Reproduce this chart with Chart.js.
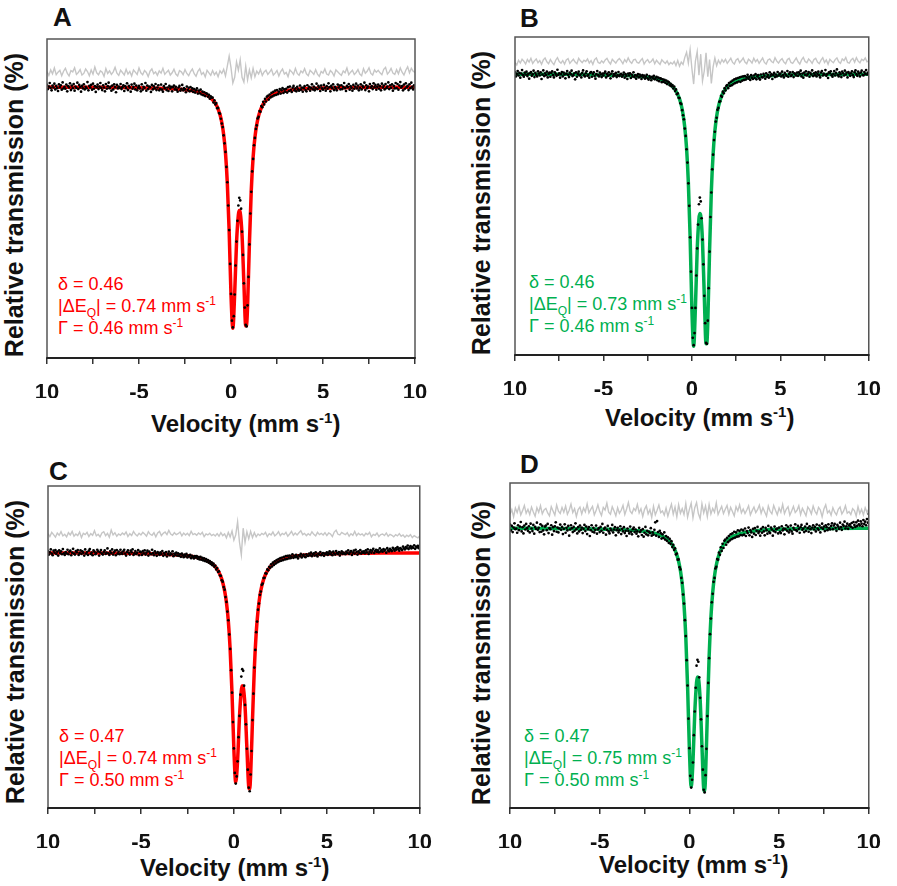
<!DOCTYPE html>
<html>
<head>
<meta charset="utf-8">
<script src="https://cdn.jsdelivr.net/npm/chart.js@4.4.0/dist/chart.umd.min.js"></script>
<style>
    body { margin: 0; background: #fff; width: 897px; height: 886px; position: relative; overflow: hidden;
           font-family: "Liberation Sans", Arial, sans-serif; }
    canvas { position: absolute; }
    .lbl { position: absolute; white-space: nowrap; color: #111; }
    .letter { font-weight: bold; font-size: 26px; line-height: 26px; }
    .xt { font-weight: bold; font-size: 24px; line-height: 24px; }
    .xt sup { font-size: 15px; line-height: 0; }
    .yt { font-weight: bold; font-size: 25px; line-height: 25px; transform: translate(-50%, -50%) rotate(-90deg); }
    .note { font-size: 18px; line-height: 22px; }
    .note sup, .note sub { font-size: 12px; line-height: 0; }
</style>
</head>
<body>

<div class="lbl letter" style="left:53px; top:4px;">A</div>
<div class="lbl letter" style="left:520px; top:5px;">B</div>
<div class="lbl letter" style="left:49px; top:458px;">C</div>
<div class="lbl letter" style="left:520px; top:451px;">D</div>

<div class="lbl yt" style="left:14px; top:205px;">Relative transmission (%)</div>
<div class="lbl yt" style="left:481px; top:203px;">Relative transmission (%)</div>
<div class="lbl yt" style="left:15px; top:652px;">Relative transmission (%)</div>
<div class="lbl yt" style="left:481px; top:653px;">Relative transmission (%)</div>

<div class="lbl xt" style="left:151px; top:412px;">Velocity (mm s<sup>-1</sup>)</div>
<div class="lbl xt" style="left:605px; top:406px;">Velocity (mm s<sup>-1</sup>)</div>
<div class="lbl xt" style="left:140px; top:856px;">Velocity (mm s<sup>-1</sup>)</div>
<div class="lbl xt" style="left:599px; top:853px;">Velocity (mm s<sup>-1</sup>)</div>

<div class="lbl note" style="left:58px; top:273px; color:#ff0000;">δ = 0.46<br>|ΔE<sub>Q</sub>| = 0.74 mm s<sup>-1</sup><br>Γ = 0.46 mm s<sup>-1</sup></div>
<div class="lbl note" style="left:529px; top:271px; color:#00b050;">δ = 0.46<br>|ΔE<sub>Q</sub>| = 0.73 mm s<sup>-1</sup><br>Γ = 0.46 mm s<sup>-1</sup></div>
<div class="lbl note" style="left:59px; top:725px; color:#ff0000;">δ = 0.47<br>|ΔE<sub>Q</sub>| = 0.74 mm s<sup>-1</sup><br>Γ = 0.50 mm s<sup>-1</sup></div>
<div class="lbl note" style="left:524px; top:725px; color:#00b050;">δ = 0.47<br>|ΔE<sub>Q</sub>| = 0.75 mm s<sup>-1</sup><br>Γ = 0.50 mm s<sup>-1</sup></div>

<canvas id="chartA" width="448" height="440" style="left:0; top:0;"></canvas>
<canvas id="chartB" width="449" height="440" style="left:448px; top:0;"></canvas>
<canvas id="chartC" width="448" height="446" style="left:0; top:440px;"></canvas>
<canvas id="chartD" width="449" height="446" style="left:448px; top:440px;"></canvas>

<script>
// spectrometer channels: counts every 0.05 mm/s, residuals every 0.1 mm/s, from -10 mm/s
const velStart = -10;
const countStep = 0.05;
const residStep = 0.1;

const xTicks = [-10, -5, 0, 5, 10];
const xTickLabels = ['10', '-5', '0', '5', '10'];

// velocities where the fit curves are read
const fitVel = [-10, -8, -6, -4, -3, -2.5, -2, -1.8, -1.6, -1.4, -1.2, -1.0,
    -0.9, -0.8, -0.7, -0.6, -0.5, -0.4, -0.3, -0.2, -0.1,
    0, 0.1, 0.2, 0.3, 0.4, 0.45, 0.5, 0.6, 0.7, 0.8, 0.85, 0.9,
    1.0, 1.1, 1.2, 1.3, 1.4, 1.5, 1.6, 1.7, 1.8,
    2.0, 2.2, 2.4, 2.8, 3.5, 4, 5, 6, 8, 10];

const fitA = [84.92, 84.87, 84.8, 84.6, 84.35, 84.1, 83.7, 83.47, 83.12, 82.64, 81.98, 80.97,
    80.23, 79.3, 78.05, 76.31, 73.81, 70.06, 64.29, 54.84, 39.8,
    19.77, 9.35, 20.23, 36.07, 44.83, 46.2, 45.6, 38.5, 23.63, 10.08, 10.2, 16.2,
    35.86, 52.33, 62.76, 69.15, 73.2, 75.9, 77.7, 79.1, 80.07,
    81.39, 82.29, 82.85, 83.56, 84.17, 84.4, 84.63, 84.75, 84.86, 84.91];
const fitB = [88.3, 88.26, 88.17, 87.94, 87.66, 87.38, 86.94, 86.67, 86.27, 85.72, 84.98, 83.84,
    83.0, 81.95, 80.53, 78.56, 75.73, 71.48, 64.95, 54.24, 37.25,
    14.54, 2.74, 15.05, 33.0, 42.9, 44.5, 43.8, 35.75, 18.9, 3.56, 3.7, 10.5,
    32.76, 51.4, 63.2, 70.46, 75.02, 78.09, 80.14, 81.71, 82.81,
    84.31, 85.33, 85.96, 86.77, 87.46, 87.72, 87.98, 88.12, 88.24, 88.3];
const fitC = [79.22, 79.17, 79.1, 78.89, 78.6, 78.33, 77.88, 77.6, 77.23, 76.73, 76.0, 74.93,
    74.15, 73.16, 71.84, 70.05, 67.5, 63.8, 58.1, 49.2, 35.57,
    18.24, 7.92, 14.82, 28.16, 36.5, 38.0, 37.6, 31.5, 18.65, 6.6, 5.88, 10.12,
    27.1, 43.3, 54.3, 61.3, 65.9, 68.9, 71.0, 72.5, 73.67,
    75.2, 76.2, 76.87, 77.68, 78.36, 78.62, 78.89, 79.03, 79.17, 79.22];
const fitD = [86.09, 86.03, 85.9, 85.73, 85.42, 85.13, 84.62, 84.32, 83.9, 83.35, 82.53, 81.33,
    80.48, 79.36, 77.89, 75.9, 73.05, 68.91, 62.57, 52.64, 37.4,
    18.12, 6.61, 14.34, 29.23, 38.62, 40.33, 40.0, 33.32, 19.23, 5.91, 5.15, 9.82,
    28.57, 46.45, 58.62, 66.33, 71.35, 74.68, 77.03, 78.72, 79.97,
    81.69, 82.77, 83.51, 84.41, 85.16, 85.44, 85.74, 85.9, 86.03, 86.09];

// measured transmission, one row per 1 mm/s (20 channels)
const countsA = [
    85.6, 84.3, 85.1, 86.2, 84.7, 83.9, 85.4, 84.8, 86.0, 84.2, 85.3, 84.6, 83.7, 85.8, 84.9, 85.5, 84.1, 86.4, 84.5, 85.0,
    84.4, 85.7, 83.6, 85.2, 84.8, 86.1, 84.0, 85.4, 84.6, 85.9, 83.8, 85.1, 84.7, 86.3, 84.3, 85.6, 84.9, 83.5, 85.3, 84.5,
    85.8, 84.2, 85.0, 84.6, 86.5, 83.9, 85.3, 84.8, 85.6, 84.1, 86.0, 84.4, 85.2, 83.4, 84.9, 85.7, 84.3, 85.1, 86.2, 84.7,
    84.0, 85.5, 84.8, 83.6, 85.9, 84.4, 85.2, 86.3, 84.6, 85.0, 83.8, 85.4, 84.2, 85.8, 84.9, 83.3, 85.6, 84.5, 85.1, 84.7,
    85.9, 84.3, 84.9, 85.5, 83.7, 85.2, 84.6, 86.1, 84.0, 85.3, 84.8, 83.5, 85.7, 84.4, 85.0, 86.0, 84.2, 85.4, 83.9, 84.7,
    85.3, 84.5, 83.6, 85.8, 84.1, 85.0, 84.7, 86.2, 83.8, 85.4, 84.3, 85.1, 84.9, 83.4, 85.6, 84.2, 85.2, 84.6, 85.9, 84.0,
    84.8, 85.5, 83.9, 84.4, 85.7, 84.1, 83.5, 85.2, 84.6, 85.9, 84.0, 84.8, 83.7, 85.3, 84.5, 85.0, 83.6, 84.9, 85.4, 84.2,
    85.0, 84.1, 83.5, 84.8, 85.3, 83.8, 84.4, 85.6, 83.9, 84.6, 84.2, 83.3, 85.1, 84.0, 84.7, 83.6, 84.9, 83.8, 84.5, 83.4,
    84.3, 83.2, 83.9, 84.5, 82.9, 83.8, 83.0, 84.1, 82.6, 83.5, 82.4, 83.3, 82.1, 83.0, 82.8, 81.9, 82.5, 81.3, 82.0, 81.6,
    81.6, 80.1, 80.8, 79.5, 79.9, 78.3, 78.4, 76.8, 76.6, 75.0, 73.5, 72.4, 69.8, 67.3, 64.6, 59.9, 55.1, 47.8, 40.1, 29.5,
    20.1, 11.7, 9.6, 13.1, 19.9, 29.0, 36.5, 43.0, 47.8, 50.2, 49.4, 46.8, 39.6, 32.3, 23.4, 15.8, 10.4, 9.9, 16.5, 25.4,
    35.6, 45.3, 52.1, 58.5, 62.4, 66.7, 69.0, 71.8, 72.9, 75.1, 75.6, 77.4, 77.2, 79.0, 78.6, 80.3, 79.5, 81.2, 80.4, 81.9,
    82.2, 81.0, 82.6, 81.7, 83.1, 82.0, 83.4, 82.3, 83.8, 82.5, 84.0, 82.7, 83.5, 84.3, 82.9, 83.9, 84.6, 83.1, 84.2, 83.5,
    84.4, 83.2, 84.9, 83.7, 85.1, 84.0, 83.4, 84.7, 85.3, 83.9, 84.5, 83.6, 85.0, 84.2, 83.8, 85.4, 84.1, 84.8, 83.5, 84.6,
    85.2, 84.0, 83.6, 85.5, 84.4, 85.0, 83.8, 84.7, 85.8, 84.2, 85.1, 83.9, 84.6, 86.0, 84.3, 85.3, 84.8, 83.7, 85.4, 84.5,
    84.1, 85.6, 84.7, 83.8, 85.2, 84.4, 86.1, 84.9, 83.6, 85.3, 84.6, 85.8, 84.0, 85.0, 84.5, 83.9, 85.7, 84.8, 85.4, 84.2,
    85.5, 84.3, 85.0, 86.2, 84.6, 83.7, 85.3, 84.9, 85.9, 84.1, 85.2, 84.7, 83.8, 85.6, 84.4, 85.1, 86.0, 84.5, 85.4, 83.9,
    84.7, 85.8, 84.2, 85.3, 84.9, 86.3, 84.0, 85.5, 84.6, 85.1, 83.6, 85.9, 84.8, 85.2, 84.3, 86.1, 84.9, 85.6, 84.1, 85.0,
    85.7, 84.4, 85.2, 83.9, 86.0, 84.8, 85.4, 84.2, 85.9, 84.6, 85.1, 86.4, 84.3, 85.5, 84.7, 85.8, 83.8, 85.3, 84.5, 86.2,
    84.6, 85.9, 84.1, 85.4, 86.5, 84.8, 85.2, 83.9, 85.7, 84.4, 86.1, 84.9, 85.3, 84.0, 85.8, 84.6, 86.3, 85.0, 84.2, 85.5,
    84.9];
const countsB = [
    88.9, 87.6, 88.4, 89.3, 87.9, 88.7, 87.2, 88.5, 89.6, 88.0, 87.5, 88.8, 88.2, 89.1, 87.7, 88.4, 86.9, 88.6, 89.0, 87.8,
    88.3, 89.4, 87.4, 88.7, 88.1, 87.6, 89.2, 88.5, 87.9, 88.9, 86.8, 88.2, 89.5, 87.7, 88.6, 88.0, 89.1, 87.3, 88.4, 88.8,
    87.5, 88.7, 89.2, 88.0, 87.3, 88.9, 88.4, 87.8, 89.7, 88.1, 88.6, 87.2, 88.3, 89.0, 87.6, 88.8, 88.2, 87.0, 88.5, 89.3,
    88.1, 87.4, 88.8, 88.3, 89.4, 87.7, 88.0, 88.6, 86.7, 88.9, 87.5, 88.4, 89.1, 87.9, 88.2, 87.3, 88.7, 89.5, 88.0, 87.6,
    88.6, 89.2, 87.8, 88.1, 87.2, 88.7, 89.0, 87.5, 88.4, 88.9, 87.7, 86.9, 88.3, 89.3, 88.0, 87.6, 88.8, 88.2, 87.4, 88.5,
    87.9, 88.6, 89.1, 87.3, 88.4, 87.8, 88.9, 88.1, 87.0, 88.5, 89.2, 87.6, 88.3, 87.9, 88.7, 87.4, 88.0, 89.0, 87.7, 88.2,
    88.4, 87.5, 88.0, 88.8, 87.2, 88.3, 87.7, 86.8, 88.5, 87.9, 88.6, 87.1, 88.2, 87.6, 88.9, 87.4, 88.0, 86.9, 87.8, 88.3,
    87.3, 88.2, 87.6, 86.8, 88.0, 87.4, 87.9, 86.9, 87.5, 88.1, 87.0, 86.6, 87.7, 87.2, 86.4, 87.5, 87.0, 87.8, 86.7, 87.1,
    87.5, 86.4, 87.2, 86.1, 87.0, 86.9, 85.8, 86.7, 85.9, 86.5, 85.6, 86.3, 85.2, 86.0, 85.7, 84.8, 85.3, 84.5, 84.9, 83.8,
    84.4, 83.0, 83.5, 82.0, 82.3, 80.9, 80.8, 79.2, 78.9, 77.0, 75.4, 74.1, 71.2, 68.9, 64.7, 60.5, 54.0, 46.9, 37.0, 26.2,
    14.8, 5.4, 3.1, 6.9, 14.8, 25.0, 33.5, 41.0, 47.4, 49.5, 48.3, 43.0, 36.3, 28.5, 18.6, 10.0, 3.8, 3.5, 10.8, 21.0,
    32.5, 43.4, 51.1, 58.4, 63.0, 67.6, 70.2, 73.4, 74.6, 77.1, 77.7, 79.6, 79.8, 81.5, 81.2, 82.8, 82.3, 83.9, 83.2, 84.6,
    84.9, 83.9, 85.5, 84.6, 85.9, 84.8, 86.3, 85.2, 86.7, 85.5, 86.9, 85.7, 87.1, 86.0, 87.3, 85.9, 87.5, 86.3, 87.6, 86.5,
    87.7, 86.6, 87.3, 88.1, 86.9, 87.5, 86.5, 88.0, 87.2, 86.8, 87.9, 87.1, 88.3, 86.7, 87.6, 88.0, 87.0, 86.6, 88.2, 87.4,
    87.3, 88.4, 87.8, 86.9, 88.6, 87.5, 88.1, 87.2, 88.9, 87.7, 88.3, 86.8, 88.0, 88.7, 87.4, 88.2, 87.6, 89.0, 87.9, 88.4,
    88.5, 87.6, 89.1, 88.0, 87.3, 88.7, 88.2, 87.8, 89.3, 87.5, 88.4, 88.9, 87.7, 88.1, 89.0, 87.4, 88.6, 88.3, 87.9, 88.8,
    87.8, 88.9, 88.3, 89.4, 87.6, 88.5, 87.2, 88.8, 88.1, 89.2, 87.9, 88.4, 89.0, 87.5, 88.7, 88.2, 89.5, 87.7, 88.6, 88.0,
    88.9, 87.6, 88.4, 89.1, 88.0, 87.3, 88.8, 89.3, 87.9, 88.5, 88.2, 89.6, 87.8, 88.3, 87.1, 88.9, 88.6, 89.2, 88.0, 87.5,
    88.4, 89.3, 87.9, 88.7, 89.8, 88.1, 87.6, 88.9, 88.3, 87.4, 89.1, 88.6, 87.9, 89.4, 88.2, 88.8, 87.3, 89.0, 88.5, 87.8,
    88.6, 89.2, 88.0, 87.4, 88.9, 89.5, 88.3, 87.8, 89.1, 88.5, 87.6, 88.8, 89.4, 88.1, 87.9, 89.0, 88.4, 89.6, 88.2, 88.7,
    88.9];
const countsC = [
    79.8, 78.7, 79.4, 80.3, 79.0, 78.5, 79.9, 79.3, 80.1, 78.9, 79.6, 78.4, 80.0, 79.2, 79.7, 78.8, 80.4, 79.1, 78.6, 79.5,
    79.1, 80.2, 78.8, 79.6, 79.9, 78.5, 79.3, 80.5, 79.0, 78.7, 79.8, 79.4, 80.1, 78.6, 79.2, 80.0, 78.9, 79.7, 79.3, 78.4,
    80.3, 79.0, 79.5, 78.6, 79.9, 80.4, 78.9, 79.3, 78.5, 80.0, 79.6, 78.8, 79.2, 80.2, 79.7, 78.4, 79.4, 80.1, 79.0, 78.7,
    79.5, 80.0, 78.9, 79.3, 80.6, 79.1, 78.6, 79.8, 79.2, 80.3, 78.7, 79.4, 79.9, 78.5, 80.1, 79.0, 79.6, 78.8, 80.2, 79.3,
    78.9, 79.7, 80.2, 79.0, 78.4, 79.5, 80.0, 79.2, 78.7, 79.9, 79.4, 80.3, 78.6, 79.1, 79.8, 78.9, 79.3, 80.1, 78.5, 79.6,
    79.4, 78.6, 79.8, 79.1, 80.0, 78.7, 79.3, 79.9, 78.4, 79.6, 79.0, 78.8, 80.2, 79.2, 78.5, 79.7, 79.1, 78.3, 79.5, 79.0,
    78.6, 79.4, 78.9, 79.8, 78.3, 79.2, 78.7, 79.5, 78.1, 78.9, 79.6, 78.5, 79.1, 78.8, 79.7, 78.2, 79.0, 78.6, 79.3, 78.4,
    79.1, 78.3, 78.8, 78.0, 79.0, 78.5, 77.9, 78.7, 78.2, 78.9, 77.8, 78.4, 78.1, 78.6, 77.6, 78.3, 78.0, 77.5, 78.2, 77.8,
    78.2, 77.4, 77.9, 77.2, 78.0, 77.1, 77.7, 76.9, 77.5, 76.7, 77.3, 76.5, 77.0, 76.2, 76.7, 75.8, 76.3, 75.4, 75.9, 74.9,
    75.3, 74.1, 74.5, 73.3, 73.5, 72.2, 72.1, 70.7, 70.3, 68.6, 67.8, 65.5, 64.0, 61.0, 58.3, 53.9, 49.4, 42.8, 35.8, 26.7,
    18.5, 10.9, 7.6, 9.8, 14.5, 22.0, 28.6, 35.2, 40.8, 43.1, 42.6, 38.0, 32.0, 26.0, 18.4, 11.9, 6.3, 5.2, 10.4, 17.7,
    27.3, 35.5, 43.6, 49.1, 54.6, 57.9, 61.6, 63.5, 66.2, 67.2, 69.3, 69.7, 71.4, 71.5, 72.9, 72.8, 74.1, 73.8, 74.9, 74.6,
    75.7, 75.0, 76.2, 75.5, 76.6, 75.9, 77.0, 76.3, 77.3, 76.6, 77.6, 76.8, 77.8, 77.0, 78.0, 77.2, 78.2, 77.3, 78.3, 77.5,
    78.4, 77.6, 78.1, 78.8, 77.7, 78.3, 77.9, 78.6, 78.0, 77.5, 78.5, 78.2, 78.9, 77.8, 78.4, 78.7, 78.1, 77.9, 78.8, 78.3,
    78.3, 79.0, 78.5, 79.3, 78.2, 78.8, 79.1, 78.4, 79.4, 78.6, 78.1, 79.0, 78.7, 79.5, 78.5, 78.9, 79.2, 78.3, 79.0, 78.8,
    79.4, 78.6, 79.1, 79.7, 78.8, 79.3, 78.5, 79.6, 79.0, 78.7, 79.8, 79.2, 78.9, 79.5, 78.4, 79.1, 79.7, 78.9, 79.3, 79.0,
    78.8, 79.6, 79.2, 80.0, 78.9, 79.4, 79.8, 78.6, 79.3, 79.9, 79.0, 80.2, 79.5, 78.7, 79.7, 79.2, 80.1, 79.0, 79.6, 79.3,
    79.7, 79.1, 80.0, 79.4, 80.3, 78.9, 79.6, 80.1, 79.3, 79.9, 80.5, 79.2, 79.8, 80.2, 79.5, 80.0, 79.4, 80.6, 79.7, 80.1,
    79.6, 80.4, 79.9, 80.2, 79.3, 80.7, 80.0, 79.7, 80.5, 80.1, 79.8, 80.8, 80.3, 79.9, 80.6, 80.2, 81.0, 80.4, 79.9, 80.7,
    80.5, 80.1, 81.2, 80.6, 80.3, 81.0, 80.7, 81.5, 80.4, 80.9, 81.3, 80.6, 81.1, 80.8, 81.6, 80.5, 81.2, 80.9, 81.4, 80.7,
    81.0];
const countsD = [
    87.2, 85.4, 86.8, 84.9, 86.3, 87.6, 85.8, 86.0, 84.7, 87.0, 85.5, 86.6, 88.0, 85.1, 86.4, 84.5, 86.9, 85.7, 87.4, 86.1,
    85.3, 86.7, 84.8, 87.5, 86.0, 85.2, 87.1, 84.4, 86.5, 85.9, 87.8, 85.6, 86.2, 84.9, 87.3, 85.0, 86.8, 85.4, 84.2, 86.6,
    86.9, 85.5, 87.4, 84.6, 86.1, 85.8, 87.0, 84.1, 86.4, 85.2, 86.7, 87.9, 85.0, 86.3, 84.8, 86.0, 87.2, 85.6, 86.5, 84.3,
    85.9, 87.3, 84.7, 86.2, 85.4, 86.8, 83.8, 85.7, 87.0, 86.1, 84.9, 86.5, 85.3, 87.6, 85.8, 84.5, 86.4, 85.1, 86.9, 85.6,
    86.3, 84.6, 85.9, 87.1, 85.2, 86.6, 84.3, 85.8, 86.4, 83.7, 85.5, 87.0, 85.0, 86.2, 84.8, 85.6, 86.9, 84.4, 85.7, 86.1,
    84.9, 86.5, 85.3, 87.4, 84.7, 85.9, 86.3, 84.1, 85.6, 86.8, 85.1, 84.5, 86.0, 85.4, 87.1, 84.8, 85.7, 86.4, 83.9, 85.5,
    86.2, 84.8, 85.5, 86.7, 84.3, 85.9, 85.1, 86.4, 84.6, 85.3, 83.7, 86.0, 85.2, 84.5, 86.6, 85.0, 84.2, 85.8, 86.3, 84.9,
    85.7, 84.4, 85.1, 83.6, 86.2, 84.9, 85.4, 84.0, 85.8, 83.5, 84.7, 86.5, 84.2, 85.3, 83.9, 85.0, 84.6, 86.1, 83.8, 84.8,
    84.1, 85.6, 87.9, 83.8, 88.3, 84.9, 83.4, 85.3, 84.6, 82.9, 84.2, 83.1, 84.8, 82.6, 83.7, 82.2, 83.3, 81.6, 82.8, 81.3,
    82.1, 80.3, 81.0, 79.4, 79.9, 78.0, 78.3, 76.4, 76.5, 74.1, 73.4, 70.8, 69.3, 65.7, 62.9, 57.8, 52.9, 45.5, 37.7, 27.5,
    18.4, 9.9, 6.3, 8.7, 14.0, 22.4, 29.7, 37.0, 43.8, 45.6, 45.0, 40.2, 33.9, 27.3, 19.0, 11.8, 5.6, 4.8, 10.1, 18.2,
    28.3, 38.5, 46.1, 53.5, 58.3, 63.3, 65.9, 69.6, 70.8, 73.7, 74.2, 76.6, 76.4, 78.6, 77.9, 80.2, 79.1, 81.3, 80.0, 82.2,
    82.6, 81.0, 83.1, 81.8, 83.7, 82.3, 84.2, 82.7, 84.5, 83.0, 85.0, 83.2, 84.8, 83.5, 85.4, 83.6, 85.3, 84.0, 85.7, 83.9,
    85.4, 84.1, 86.0, 83.7, 85.2, 84.6, 86.3, 83.9, 85.5, 84.8, 83.4, 85.9, 84.4, 86.1, 84.0, 85.3, 86.5, 84.6, 85.1, 83.8,
    85.9, 84.7, 86.4, 85.1, 83.9, 86.2, 85.5, 84.4, 86.8, 85.0, 84.6, 86.3, 85.7, 83.8, 85.2, 86.6, 84.9, 85.8, 86.0, 84.5,
    86.3, 85.0, 84.6, 86.7, 85.4, 86.0, 84.2, 85.8, 87.0, 85.3, 86.5, 84.8, 85.6, 86.9, 85.1, 84.4, 86.2, 85.7, 87.3, 85.5,
    85.2, 86.8, 85.9, 84.7, 86.4, 87.1, 85.6, 86.0, 84.9, 86.6, 85.3, 87.4, 86.1, 85.0, 86.7, 85.8, 84.6, 86.3, 87.0, 85.7,
    86.5, 85.1, 87.2, 86.0, 85.6, 86.9, 84.8, 86.3, 87.5, 85.9, 86.6, 85.2, 87.0, 86.4, 85.5, 87.3, 86.1, 85.7, 86.8, 87.6,
    85.8, 86.9, 87.4, 86.2, 85.3, 87.1, 86.6, 85.9, 87.8, 86.4, 85.6, 87.2, 86.8, 88.1, 86.0, 86.7, 87.5, 85.9, 86.9, 87.3,
    86.6, 87.7, 86.2, 88.0, 87.1, 86.5, 87.9, 86.8, 88.4, 87.3, 86.9, 88.2, 87.5, 86.7, 88.6, 87.4, 88.1, 87.0, 88.9, 87.8,
    90.5];

// fit residuals (grey trace), one row per 1 mm/s (10 channels)
const residA = [
    89.8, 88.6, 90.3, 89.1, 90.9, 88.8, 89.6, 90.2, 88.5, 89.9,
    90.8, 89.3, 88.4, 90.1, 89.7, 91.0, 88.9, 89.5, 90.4, 88.7,
    89.2, 90.6, 89.8, 88.5, 90.3, 89.0, 91.2, 89.4, 88.8, 90.0,
    89.6, 88.3, 90.7, 89.2, 90.0, 88.9, 89.7, 91.1, 89.3, 88.6,
    90.2, 89.5, 88.7, 90.5, 89.0, 89.8, 88.4, 90.3, 89.6, 88.9,
    90.9, 89.4, 88.8, 90.1, 89.5, 88.2, 89.9, 90.6, 89.1, 89.7,
    88.6, 90.0, 89.3, 90.8, 88.9, 89.6, 90.2, 88.7, 89.4, 90.5,
    89.0, 88.4, 90.1, 89.7, 88.8, 90.4, 89.2, 88.5, 89.8, 90.6,
    89.1, 88.3, 89.9, 90.7, 88.9, 89.5, 88.1, 90.2, 89.4, 88.6,
    90.1, 88.8, 89.6, 88.2, 90.0, 89.2, 90.5, 88.4, 91.5, 94.6,
    91.0, 86.2, 88.0, 92.8, 90.2, 93.5, 88.0, 86.5, 91.5, 87.2,
    90.3, 87.8, 90.8, 88.2, 89.9, 89.0, 90.4, 88.6, 89.7, 90.2,
    88.9, 89.6, 90.5, 88.7, 89.3, 90.1, 88.4, 89.8, 90.6, 89.0,
    89.5, 88.2, 90.3, 89.7, 88.9, 90.8, 89.2, 88.6, 90.0, 89.4,
    90.7, 89.1, 88.5, 90.2, 89.6, 88.9, 90.4, 89.0, 88.3, 89.8,
    89.3, 90.6, 89.0, 88.7, 90.1, 89.5, 88.4, 90.3, 89.7, 89.1,
    88.6, 90.0, 89.4, 90.9, 88.8, 89.6, 90.2, 88.9, 89.5, 90.4,
    89.0, 88.5, 90.7, 89.3, 89.9, 91.0, 89.2, 88.7, 90.3, 89.6,
    90.2, 89.4, 88.8, 90.5, 91.1, 89.0, 89.7, 90.8, 89.3, 88.9,
    90.4, 89.1, 90.9, 89.6, 88.7, 90.2, 91.3, 89.4, 90.8, 89.9,
    89.5];
const residB = [
    92.0, 91.2, 92.7, 91.8, 93.0, 92.4, 91.5, 92.9, 92.1, 93.3,
    91.7, 92.5, 93.1, 91.9, 92.6, 91.4, 92.8, 93.4, 92.2, 91.6,
    92.9, 92.0, 91.3, 92.7, 93.5, 92.3, 91.8, 92.6, 91.5, 92.8,
    93.2, 91.7, 92.4, 93.0, 92.1, 91.6, 93.3, 92.5, 91.9, 92.7,
    92.3, 93.1, 91.8, 92.6, 91.4, 92.9, 93.4, 92.0, 91.7, 92.5,
    91.9, 92.8, 93.3, 92.2, 91.5, 93.0, 92.4, 91.8, 92.7, 93.2,
    92.5, 91.6, 92.9, 92.1, 93.4, 92.3, 91.7, 92.8, 93.0, 92.0,
    91.8, 92.6, 93.2, 91.5, 92.4, 92.9, 91.9, 92.3, 93.1, 91.6,
    92.7, 92.0, 91.4, 92.8, 92.2, 91.7, 92.5, 91.3, 92.0, 91.5,
    92.3, 91.0, 92.6, 90.8, 92.1, 91.4, 93.6, 95.2, 91.8, 96.0,
    90.1, 85.2, 92.4, 95.4, 88.0, 94.6, 86.2, 89.3, 95.0, 87.5,
    92.9, 85.4, 90.6, 93.4, 91.0, 92.7, 91.6, 92.9, 92.1, 93.0,
    91.7, 92.5, 93.3, 92.0, 91.5, 92.8, 93.2, 91.9, 92.6, 93.4,
    92.1, 91.6, 93.0, 92.5, 91.8, 93.3, 92.2, 92.9, 91.7, 92.6,
    93.4, 92.0, 91.5, 92.8, 93.1, 92.3, 91.9, 93.5, 92.4, 91.8,
    92.7, 93.2, 92.1, 91.6, 92.9, 93.3, 92.0, 91.7, 92.6, 93.4,
    92.2, 91.5, 92.8, 93.6, 92.3, 91.9, 93.1, 92.5, 91.7, 92.9,
    93.3, 92.1, 91.6, 92.7, 93.5, 92.0, 92.8, 91.4, 93.0, 92.4,
    91.9, 92.9, 93.4, 92.2, 91.7, 93.1, 92.6, 93.6, 92.0, 91.8,
    92.8, 93.3, 92.1, 93.5, 92.4, 91.9, 93.0, 92.6, 93.4, 92.2,
    92.5];
const residC = [
    85.2, 84.3, 85.6, 84.9, 84.1, 85.4, 84.7, 85.8, 84.5, 85.0,
    84.2, 85.5, 84.8, 85.9, 84.4, 85.1, 84.6, 85.7, 84.0, 85.3,
    84.9, 85.6, 84.3, 85.2, 84.7, 86.1, 84.5, 85.0, 84.2, 85.4,
    85.8, 84.6, 85.3, 84.1, 86.3, 84.8, 85.5, 84.4, 85.1, 84.7,
    85.4, 84.9, 85.7, 84.3, 85.2, 84.6, 85.9, 85.0, 84.5, 85.3,
    84.8, 85.6, 85.1, 84.4, 85.8, 85.0, 84.7, 85.5, 84.2, 85.4,
    85.9, 84.6, 85.3, 85.7, 84.9, 86.2, 85.1, 84.7, 85.5, 84.9,
    85.2, 85.7, 84.5, 85.4, 84.8, 85.3, 84.6, 85.9, 84.9, 85.2,
    84.7, 85.4, 84.9, 85.6, 84.3, 85.1, 84.8, 85.3, 84.6, 85.0,
    84.5, 85.2, 84.4, 85.5, 84.6, 85.1, 83.9, 85.6, 84.2, 86.0,
    83.2, 84.8, 88.9, 82.6, 78.6, 86.9, 82.5, 85.8, 83.6, 85.9,
    84.0, 85.5, 84.2, 85.1, 84.6, 85.3, 84.9, 85.6, 84.3, 85.2,
    84.8, 85.7, 84.5, 85.0, 85.8, 84.6, 85.3, 84.9, 85.6, 84.4,
    85.1, 85.9, 84.7, 85.4, 84.8, 85.5, 86.1, 84.9, 85.3, 84.6,
    85.2, 84.7, 85.8, 85.0, 84.5, 85.6, 84.9, 85.3, 84.8, 85.5,
    84.6, 85.4, 85.1, 84.3, 85.7, 86.3, 85.0, 84.8, 85.6, 85.2,
    84.9, 85.5, 84.4, 85.2, 84.7, 85.9, 84.6, 85.3, 84.8, 85.1,
    84.5, 85.3, 84.9, 85.6, 84.2, 85.0, 84.7, 85.4, 84.3, 84.9,
    85.1, 84.6, 85.4, 84.4, 85.0, 84.7, 84.2, 84.9, 84.5, 85.2,
    84.4, 84.8, 84.1, 84.7, 84.3, 84.9, 84.0, 84.6, 84.2, 83.9,
    84.5];
const residD = [
    90.4, 91.8, 89.6, 92.3, 90.9, 92.8, 90.2, 91.5, 93.1, 90.7,
    91.9, 90.3, 92.6, 91.1, 89.8, 92.4, 91.0, 93.0, 90.5, 91.7,
    92.2, 90.8, 89.9, 92.7, 91.4, 90.1, 93.2, 91.3, 90.6, 92.5,
    91.0, 92.9, 90.4, 91.6, 93.5, 90.9, 92.1, 89.7, 91.8, 92.6,
    90.5, 92.3, 91.1, 93.6, 90.8, 91.9, 92.8, 90.2, 91.5, 93.3,
    91.2, 90.0, 92.5, 91.7, 93.8, 91.0, 90.4, 92.7, 91.4, 89.9,
    92.4, 90.7, 91.6, 93.1, 90.3, 92.0, 94.0, 91.3, 90.6, 92.2,
    91.5, 93.4, 90.8, 92.1, 89.7, 91.9, 93.0, 90.5, 91.8, 89.4,
    92.8, 90.2, 91.6, 93.2, 90.9, 91.4, 90.1, 92.3, 89.8, 91.7,
    93.5, 90.4, 92.6, 89.6, 93.3, 90.7, 92.1, 90.3, 93.7, 89.5,
    91.9, 93.8, 89.3, 92.4, 94.0, 90.6, 89.0, 93.6, 90.8, 92.9,
    89.7, 93.4, 90.5, 92.2, 91.0, 93.9, 90.3, 91.6, 92.8, 90.6,
    91.9, 93.1, 90.4, 92.5, 91.2, 89.9, 92.7, 91.4, 93.3, 90.8,
    92.0, 90.6, 91.7, 93.0, 90.2, 91.5, 92.6, 90.9, 91.8, 93.2,
    90.7, 92.4, 91.1, 89.8, 92.9, 91.3, 90.5, 93.1, 91.6, 90.2,
    92.3, 91.0, 93.4, 90.6, 91.9, 92.7, 90.1, 91.4, 92.8, 90.9,
    91.6, 93.0, 90.3, 92.2, 91.1, 89.9, 92.6, 91.8, 90.5, 92.9,
    91.3, 90.4, 92.5, 91.7, 89.6, 92.0, 93.3, 90.8, 91.5, 90.1,
    92.4, 91.0, 90.2, 91.9, 92.6, 90.5, 91.4, 93.0, 90.7, 91.2,
    90.3, 92.1, 91.5, 89.8, 92.7, 90.6, 91.9, 90.2, 92.4, 91.0,
    92.0];

const RED = '#ff0000';
const GREEN = '#00b050';
const FONT = '"Liberation Sans", Arial, sans-serif';

function toPoints(xs, ys) {
    return ys.map((y, i) => ({ x: xs[i], y: y }));
}

function channelPoints(ys, step) {
    return ys.map((y, i) => ({ x: Math.round((velStart + i * step) * 100) / 100, y: y }));
}

const framePlugin = {
    id: 'frame',
    afterDatasetsDraw(chart) {
        const { ctx, chartArea: a } = chart;
        ctx.save();
        ctx.strokeStyle = '#555';
        ctx.lineWidth = 1.5;
        ctx.beginPath();
        ctx.moveTo(a.left, a.bottom);
        ctx.lineTo(a.left, a.top);
        ctx.lineTo(a.right, a.top);
        ctx.lineTo(a.right, a.bottom);
        ctx.stroke();
        ctx.strokeStyle = '#222';
        ctx.lineWidth = 2;
        ctx.beginPath();
        ctx.moveTo(a.left - 0.75, a.bottom);
        ctx.lineTo(a.right + 0.75, a.bottom);
        ctx.stroke();
        ctx.restore();
    }
};

function makePanel(id, padding, fit, counts, resid, color) {
    const ctx = document.getElementById(id).getContext('2d');
    return new Chart(ctx, {
        type: 'scatter',
        data: {
            datasets: [
                {
                    data: channelPoints(counts, countStep),
                    pointRadius: 1.35,
                    pointBackgroundColor: '#000',
                    pointBorderWidth: 0,
                    showLine: false,
                    order: 0
                },
                {
                    data: toPoints(fitVel, fit),
                    showLine: true,
                    borderColor: color,
                    borderWidth: 3.5,
                    pointRadius: 0,
                    cubicInterpolationMode: 'monotone',
                    order: 1
                },
                {
                    data: channelPoints(resid, residStep),
                    showLine: true,
                    borderColor: '#c6c6c6',
                    borderWidth: 1.4,
                    pointRadius: 0,
                    tension: 0,
                    order: 2
                }
            ]
        },
        options: {
            responsive: false,
            animation: false,
            devicePixelRatio: 1,
            layout: { padding: padding },
            plugins: { legend: { display: false }, tooltip: { enabled: false } },
            scales: {
                x: {
                    type: 'linear',
                    min: -10,
                    max: 10,
                    afterFit: (scale) => { scale.height = 40; },
                    border: { display: false },
                    grid: { drawOnChartArea: false, drawTicks: true, tickLength: 6, color: '#333', lineWidth: 1.5 },
                    ticks: {
                        stepSize: 2.5,
                        autoSkip: false,
                        maxRotation: 0,
                        padding: 16,
                        color: '#111',
                        font: { family: FONT, size: 22, weight: 'bold' },
                        callback: (v) => {
                            const k = xTicks.indexOf(v);
                            return k >= 0 ? xTickLabels[k] : '';
                        }
                    }
                },
                y: { display: false, min: 0, max: 100 }
            }
        },
        plugins: [framePlugin]
    });
}

makePanel('chartA', { left: 47, top: 39, right: 33, bottom: 42 }, fitA, countsA, residA, RED);
makePanel('chartB', { left: 67, top: 37, right: 14, bottom: 45 }, fitB, countsB, residB, GREEN);
makePanel('chartC', { left: 48, top: 46, right: 28, bottom: 38 }, fitC, countsC, residC, RED);
makePanel('chartD', { left: 62, top: 43, right: 13, bottom: 38 }, fitD, countsD, residD, GREEN);
</script>
</body>
</html>
